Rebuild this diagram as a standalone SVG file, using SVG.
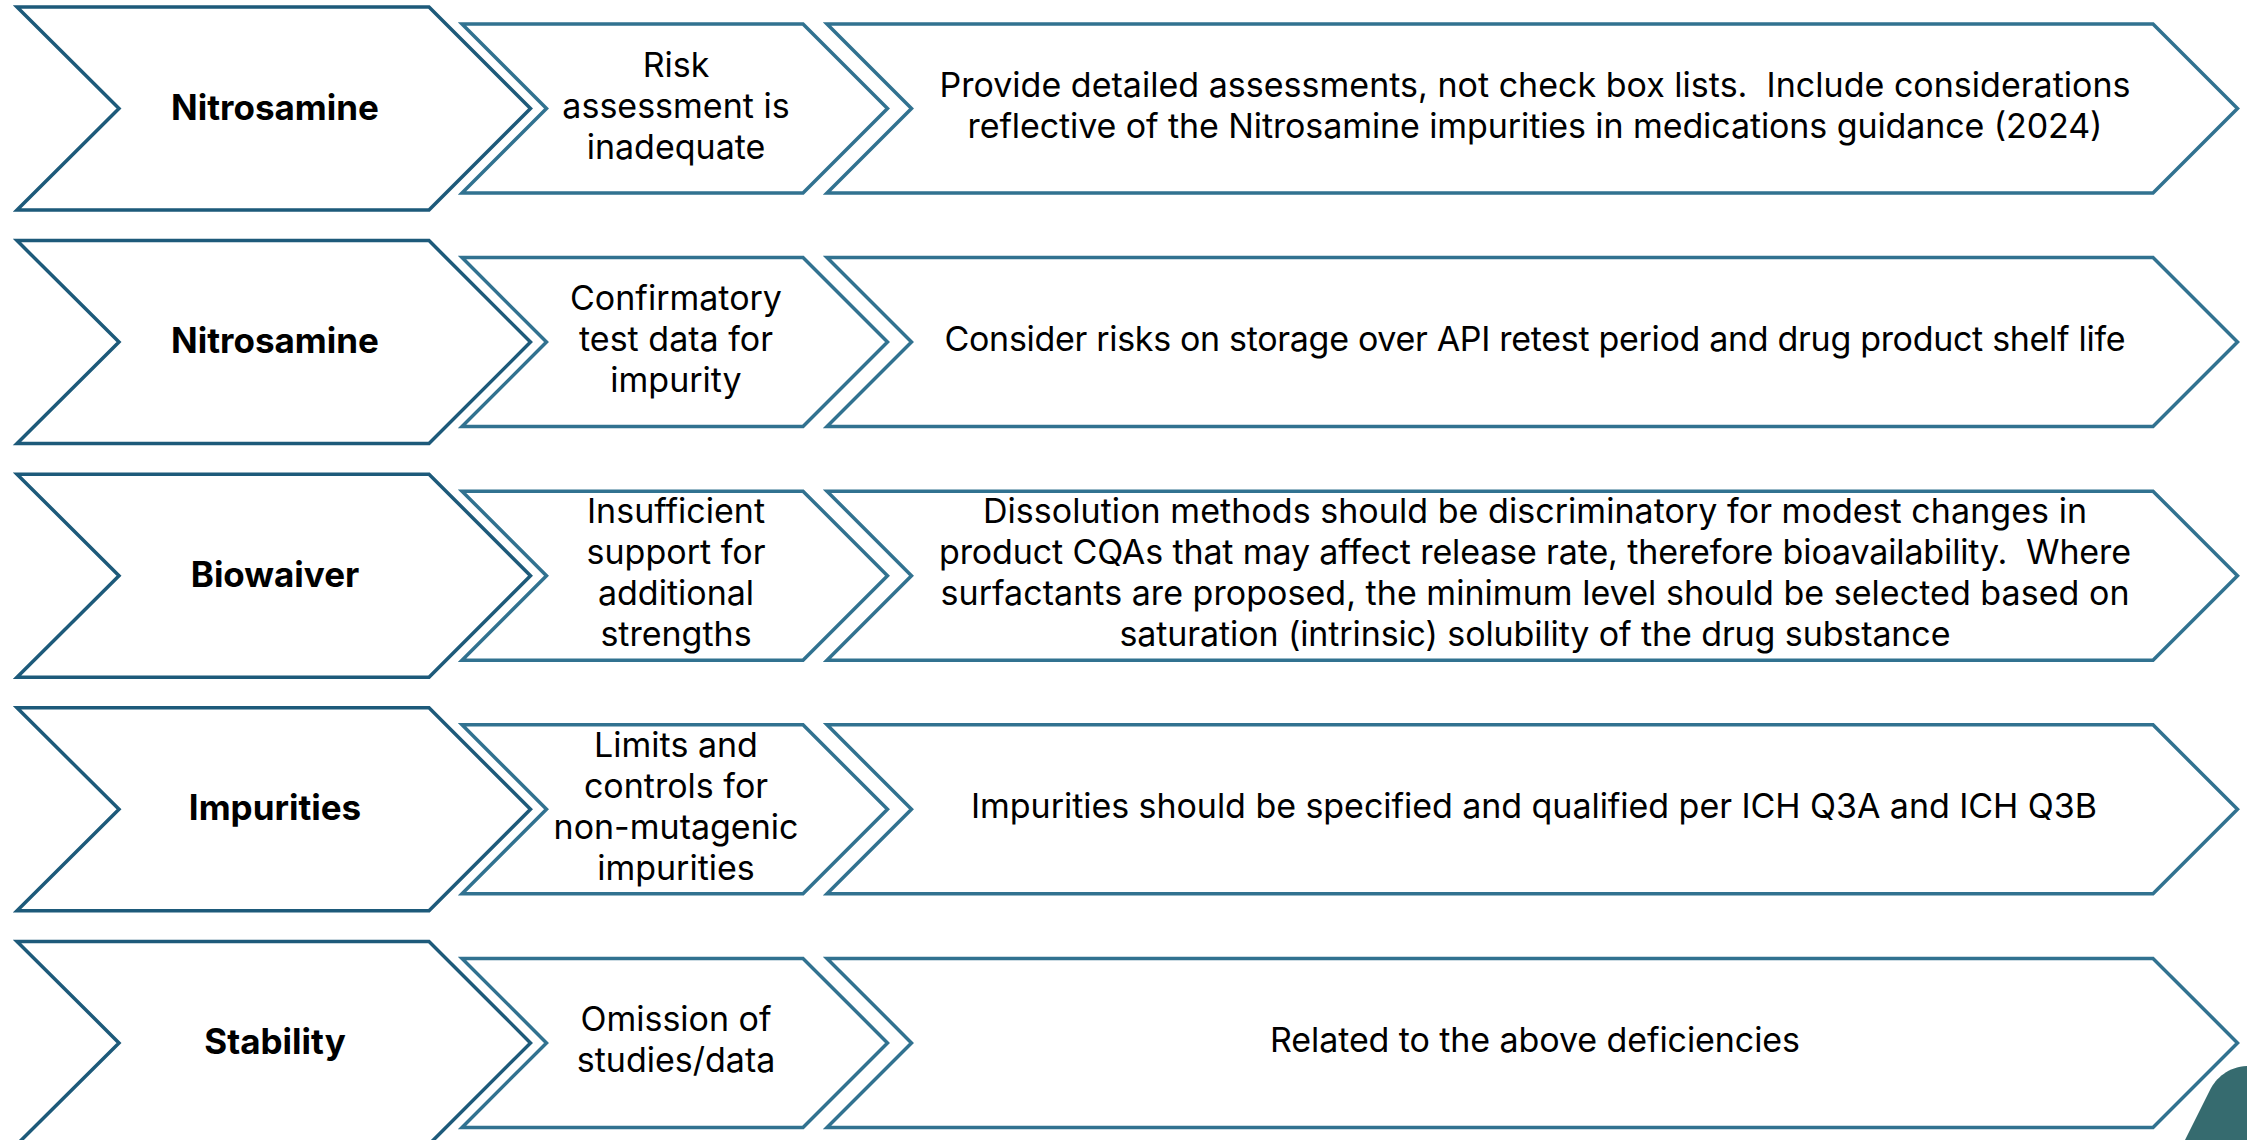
<svg xmlns="http://www.w3.org/2000/svg" xmlns:xlink="http://www.w3.org/1999/xlink" width="2247" height="1140" viewBox="0 0 2247 1140">
<style>
.outer{fill:#ffffff;stroke:#1d5a7a;stroke-width:3.5;stroke-linejoin:miter}
.inner{fill:#ffffff;stroke:#317290;stroke-width:3.5;stroke-linejoin:miter}
.lbl{font-family:Inter,"Liberation Sans",sans-serif;font-weight:700;font-size:35px;fill:#000;text-anchor:middle}
.txt{font-family:Inter,"Liberation Sans",sans-serif;font-weight:400;font-size:34px;fill:#000;text-anchor:middle}
</style>
<defs>
<polygon id="chevA" points="17,7 429,7 530.5,108.5 429,210 17,210 119,108.5"/>
<polygon id="chevB" points="462,24 803,24 887.5,108.5 803,193 462,193 546.5,108.5"/>
<polygon id="chevC" points="827,24 2153,24 2237.5,108.5 2153,193 827,193 911.5,108.5"/>
</defs>
<rect width="2247" height="1140" fill="#ffffff"/>

<g id="row1" transform="translate(0,0)">
 <g id="cat1"><use href="#chevA" class="outer"/><text class="lbl" x="275" y="119.5">Nitrosamine</text></g>
 <g id="issue1"><use href="#chevB" class="inner"/>
  <text class="txt" x="676" y="76.5">Risk</text>
  <text class="txt" x="676" y="117.5">assessment is</text>
  <text class="txt" x="676" y="158.5">inadequate</text></g>
 <g id="rec1"><use href="#chevC" class="inner"/>
  <text class="txt" x="1535" y="97" textLength="1191" xml:space="preserve">Provide detailed assessments, not check box lists.  Include considerations</text>
  <text class="txt" x="1535" y="138" textLength="1135">reflective of the Nitrosamine impurities in medications guidance (2024)</text></g>
</g>

<g id="row2" transform="translate(0,233.6)">
 <g id="cat2"><use href="#chevA" class="outer"/><text class="lbl" x="275" y="119.5">Nitrosamine</text></g>
 <g id="issue2"><use href="#chevB" class="inner"/>
  <text class="txt" x="676" y="76.5">Confirmatory</text>
  <text class="txt" x="676" y="117.5">test data for</text>
  <text class="txt" x="676" y="158.5">impurity</text></g>
 <g id="rec2"><use href="#chevC" class="inner"/>
  <text class="txt" x="1535" y="117.5" textLength="1181">Consider risks on storage over API retest period and drug product shelf life</text></g>
</g>

<g id="row3" transform="translate(0,467.2)">
 <g id="cat3"><use href="#chevA" class="outer"/><text class="lbl" x="275" y="119.5">Biowaiver</text></g>
 <g id="issue3"><use href="#chevB" class="inner"/>
  <text class="txt" x="676" y="56">Insufficient</text>
  <text class="txt" x="676" y="97">support for</text>
  <text class="txt" x="676" y="138">additional</text>
  <text class="txt" x="676" y="179">strengths</text></g>
 <g id="rec3"><use href="#chevC" class="inner"/>
  <text class="txt" x="1535" y="56" textLength="1104">Dissolution methods should be discriminatory for modest changes in</text>
  <text class="txt" x="1535" y="97" textLength="1192" xml:space="preserve">product CQAs that may affect release rate, therefore bioavailability.  Where</text>
  <text class="txt" x="1535" y="138" textLength="1189">surfactants are proposed, the minimum level should be selected based on</text>
  <text class="txt" x="1535" y="179" textLength="831">saturation (intrinsic) solubility of the drug substance</text></g>
</g>

<g id="row4" transform="translate(0,700.8)">
 <g id="cat4"><use href="#chevA" class="outer"/><text class="lbl" x="275" y="119.5">Impurities</text></g>
 <g id="issue4"><use href="#chevB" class="inner"/>
  <text class="txt" x="676" y="56">Limits and</text>
  <text class="txt" x="676" y="97">controls for</text>
  <text class="txt" x="676" y="138">non-mutagenic</text>
  <text class="txt" x="676" y="179">impurities</text></g>
 <g id="rec4"><use href="#chevC" class="inner"/>
  <text class="txt" x="1534" y="117.5" textLength="1126">Impurities should be specified and qualified per ICH Q3A and ICH Q3B</text></g>
</g>

<g id="row5" transform="translate(0,934.4)">
 <g id="cat5"><use href="#chevA" class="outer"/><text class="lbl" x="275" y="119.5">Stability</text></g>
 <g id="issue5"><use href="#chevB" class="inner"/>
  <text class="txt" x="676" y="97">Omission of</text>
  <text class="txt" x="676" y="138">studies/data</text></g>
 <g id="rec5"><use href="#chevC" class="inner"/>
  <text class="txt" x="1535" y="117.5" textLength="530">Related to the above deficiencies</text></g>
</g>

<g id="connectors"></g>

<path id="corner-shape" d="M2185,1140 L2210,1090 C2216,1078 2228,1067 2247,1066 L2247,1140 Z" fill="#366b6f"/>
</svg>
